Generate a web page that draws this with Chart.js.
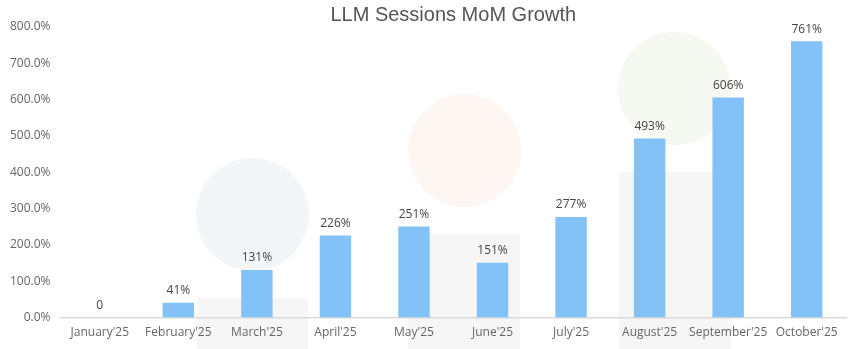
<!DOCTYPE html>
<html>
<head>
<meta charset="utf-8">
<script src="https://cdn.jsdelivr.net/npm/chart.js@4"></script>
<style>
  html, body { margin: 0; padding: 0; background: #fff; }
  .wrap { position: relative; width: 856px; height: 349px; overflow: hidden; }
  .deco { position: absolute; }
  .circle { border-radius: 50%; }
  canvas { position: absolute; left: 0; top: 0; }
</style>
</head>
<body>
<div class="wrap">
  <!-- faint background decoration -->
  <div class="deco circle" style="left:196px;top:158px;width:113px;height:113px;background:#f3f6f9"></div>
  <div class="deco" style="left:197px;top:298px;width:111px;height:60px;background:#f6f6f6"></div>
  <div class="deco circle" style="left:408px;top:94px;width:113px;height:113px;background:#fdf6f3"></div>
  <div class="deco" style="left:408px;top:234px;width:112px;height:120px;background:#f6f6f6"></div>
  <div class="deco circle" style="left:618px;top:32px;width:113px;height:113px;background:#f5f9f2"></div>
  <div class="deco" style="left:619px;top:172px;width:112px;height:180px;background:#f6f6f6"></div>
  <canvas id="growthChart" width="856" height="349"></canvas>
</div>
<script>
const months = ["January'25", "February'25", "March'25", "April'25", "May'25",
  "June'25", "July'25", "August'25", "September'25", "October'25"];
const growth = [0, 41, 131, 226, 251, 151, 277, 493, 606, 761];

const tickFont = { family: "'Open Sans', sans-serif", size: 12 };

// value labels above each bar
const barLabels = {
  id: "barLabels",
  afterDatasetsDraw(chart) {
    const { ctx } = chart;
    const meta = chart.getDatasetMeta(0);
    ctx.save();
    ctx.font = "12px 'Open Sans', sans-serif";
    ctx.fillStyle = "#444";
    ctx.textAlign = "center";
    ctx.textBaseline = "bottom";
    meta.data.forEach((bar, i) => {
      const v = growth[i];
      const txt = v === 0 ? "0" : v + "%";
      ctx.fillText(txt, bar.x, bar.y - 6);
    });
    ctx.restore();
  },
};

new Chart(document.getElementById("growthChart"), {
  type: "bar",
  data: {
    labels: months,
    datasets: [
      {
        data: growth,
        backgroundColor: "#83c2f6",
        categoryPercentage: 0.8,
        barPercentage: 0.5,
      },
    ],
  },
  options: {
    responsive: false,
    animation: false,
    layout: { padding: { left: 0, right: 10, top: 0, bottom: 1 } },
    scales: {
      x: {
        grid: { display: false, drawTicks: false },
        border: { color: "#d9d9d9", width: 1.5 },
        ticks: { color: "#666", font: tickFont, padding: 8, maxRotation: 0, autoSkip: false },
      },
      y: {
        min: 0,
        max: 800,
        grid: { display: false, drawTicks: false },
        border: { display: false },
        ticks: {
          stepSize: 100,
          color: "#666",
          font: tickFont,
          padding: 10,
          callback: (v) => v.toFixed(1) + "%",
        },
      },
    },
    plugins: {
      legend: { display: false },
      tooltip: { enabled: false },
      title: {
        display: true,
        text: "LLM Sessions MoM Growth",
        fullSize: false,
        color: "#555",
        font: { family: "'Liberation Sans', Arial, sans-serif", size: 20, weight: "normal" },
        padding: { top: 3, bottom: 0 },
      },
    },
  },
  plugins: [barLabels],
});
</script>
</body>
</html>
